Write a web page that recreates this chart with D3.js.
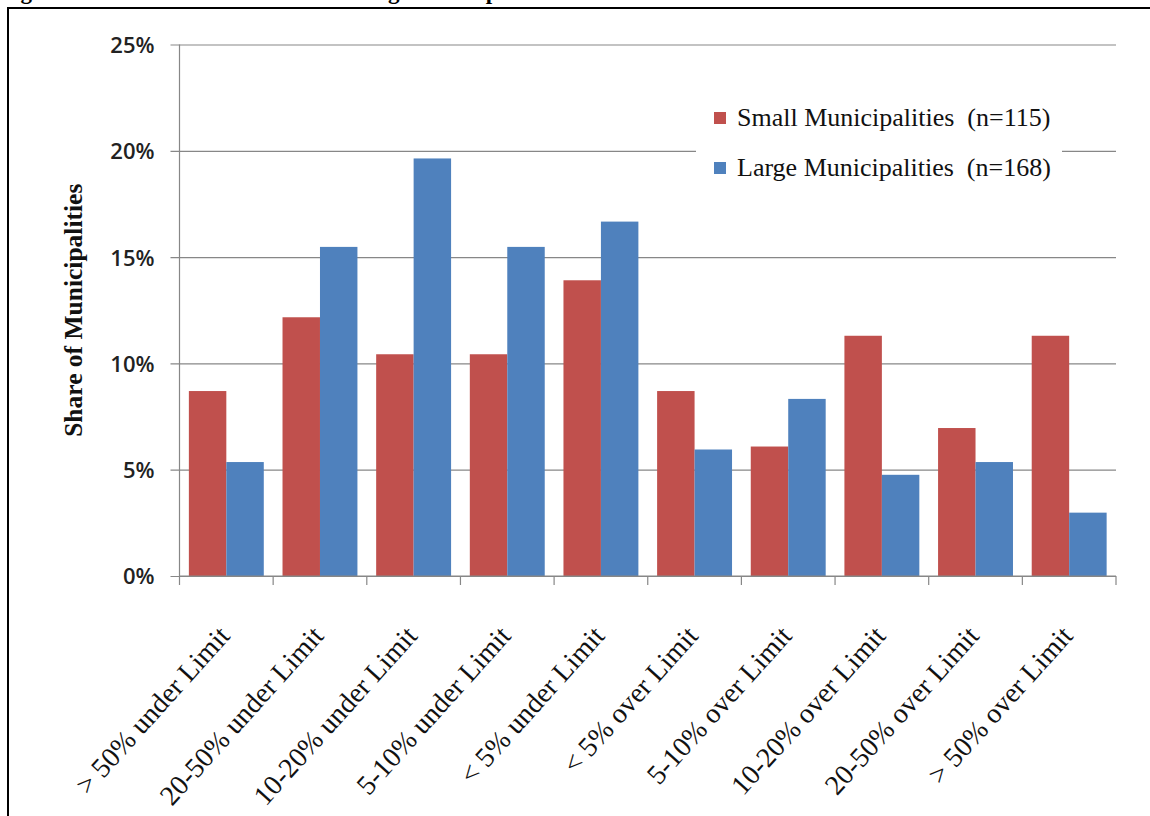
<!DOCTYPE html>
<html>
<head>
<meta charset="utf-8">
<script src="https://cdn.jsdelivr.net/npm/d3@7"></script>
<style>
  html, body { margin: 0; padding: 0; background: #fff; }
  svg { display: block; }
</style>
</head>
<body>
<svg id="chart" width="1150" height="816"></svg>
<script>
// Share of municipalities by distance from the limit
const categories = [
  "> 50% under Limit", "20-50% under Limit", "10-20% under Limit",
  "5-10% under Limit", "< 5% under Limit", "< 5% over Limit",
  "5-10% over Limit", "10-20% over Limit", "20-50% over Limit",
  "> 50% over Limit"
];
const seriesNames = ["Small Municipalities  (n=115)", "Large Municipalities  (n=168)"];
const smallShare = [0.0870, 0.1217, 0.1043, 0.1043, 0.1391, 0.0870, 0.0609, 0.1130, 0.0696, 0.1130];
const largeShare = [0.0536, 0.1548, 0.1964, 0.1548, 0.1667, 0.0595, 0.0833, 0.0476, 0.0536, 0.0298];
const yTicks = [0, 0.05, 0.10, 0.15, 0.20, 0.25];
const colors = ["#C0504D", "#4F81BD"];

const svg = d3.select("#chart");

// page frame and the heading that runs off the top of the page
svg.append("text")
  .attr("x", 0).attr("y", -1)
  .attr("font-family", "Liberation Serif, Times New Roman, serif")
  .attr("font-weight", "bold")
  .attr("font-size", 23)
  .text("Figure 4: Distribution of Small and Large Municipalities Relative to the Limit");
svg.append("rect")
  .attr("x", 8).attr("y", 8).attr("width", 1200).attr("height", 900)
  .attr("fill", "none").attr("stroke", "#000").attr("stroke-width", 2);

const plot = { left: 179.5, right: 1116, top: 44.5, bottom: 576 };

const x0 = d3.scaleBand().domain(categories).range([plot.left, plot.right]).padding(0);
const x1 = d3.scaleBand().domain([0, 1]).range([0, x0.bandwidth()]).paddingInner(0).paddingOuter(0.25);
const y = d3.scaleLinear().domain([0, 0.25]).range([plot.bottom, plot.top]);

// horizontal gridlines with outward ticks, from the y axis generator
const yAxis = d3.axisLeft(y).tickValues(yTicks).tickFormat(d3.format(".0%")).tickSize(0).tickPadding(25);
const gy = svg.append("g").attr("transform", `translate(${plot.left},0)`).call(yAxis);
gy.select(".domain").remove();
gy.selectAll(".tick line")
  .attr("x1", -9).attr("x2", plot.right - plot.left)
  .attr("stroke", "#878787").attr("stroke-width", 1.2);
gy.selectAll(".tick text")
  .attr("font-family", "Open Sans, Lato, Liberation Sans, sans-serif")
  .attr("font-weight", 600)
  .attr("font-size", 22)
  .attr("fill", "#222")
  .attr("dy", "0.36em");

// bars
const groups = svg.append("g").selectAll("g")
  .data(categories)
  .join("g")
  .attr("transform", d => `translate(${x0(d)},0)`);
groups.selectAll("rect")
  .data((d, i) => [smallShare[i], largeShare[i]])
  .join("rect")
  .attr("x", (d, j) => x1(j))
  .attr("width", x1.bandwidth())
  .attr("y", d => y(d))
  .attr("height", d => y(0) - y(d))
  .attr("fill", (d, j) => colors[j]);

// y axis line
svg.append("line")
  .attr("x1", plot.left).attr("x2", plot.left)
  .attr("y1", plot.top).attr("y2", plot.bottom)
  .attr("stroke", "#878787").attr("stroke-width", 1.2);

// x axis with ticks between categories
const xAxis = svg.append("g").attr("transform", `translate(0,${plot.bottom})`);
xAxis.append("line")
  .attr("x1", plot.left).attr("x2", plot.right)
  .attr("stroke", "#878787").attr("stroke-width", 1.2);
const boundaries = categories.map(c => x0(c)).concat([x0(categories[categories.length - 1]) + x0.bandwidth()]);
xAxis.selectAll("line.tk")
  .data(boundaries)
  .join("line")
  .attr("class", "tk")
  .attr("x1", d => d).attr("x2", d => d)
  .attr("y1", 0).attr("y2", 9)
  .attr("stroke", "#878787").attr("stroke-width", 1.2);
xAxis.selectAll("text")
  .data(categories)
  .join("text")
  .attr("transform", d => `translate(${x0(d) + x0.bandwidth() / 2 + 5},${61}) rotate(-48)`)
  .attr("text-anchor", "end")
  .attr("font-family", "Liberation Serif, Times New Roman, serif")
  .attr("font-size", 28)
  .attr("fill", "#111")
  .text(d => d);

// y axis title
svg.append("text")
  .attr("transform", `translate(82,${(plot.top + plot.bottom) / 2}) rotate(-90)`)
  .attr("text-anchor", "middle")
  .attr("font-family", "Liberation Serif, Times New Roman, serif")
  .attr("font-weight", "bold")
  .attr("font-size", 25.5)
  .attr("fill", "#111")
  .text("Share of Municipalities");

// legend
const legend = svg.append("g");
legend.append("rect")
  .attr("x", 696).attr("y", 96).attr("width", 366).attr("height", 96)
  .attr("fill", "#fff");
const items = legend.selectAll("g.item")
  .data(seriesNames)
  .join("g")
  .attr("class", "item")
  .attr("transform", (d, i) => `translate(714,${112 + i * 50})`);
items.append("rect")
  .attr("width", 12).attr("height", 12)
  .attr("fill", (d, i) => colors[i]);
items.append("text")
  .attr("x", 23).attr("y", 14)
  .attr("xml:space", "preserve")
  .style("white-space", "pre")
  .attr("font-family", "Liberation Serif, Times New Roman, serif")
  .attr("font-size", 26)
  .attr("fill", "#111")
  .text(d => d);
</script>
</body>
</html>
